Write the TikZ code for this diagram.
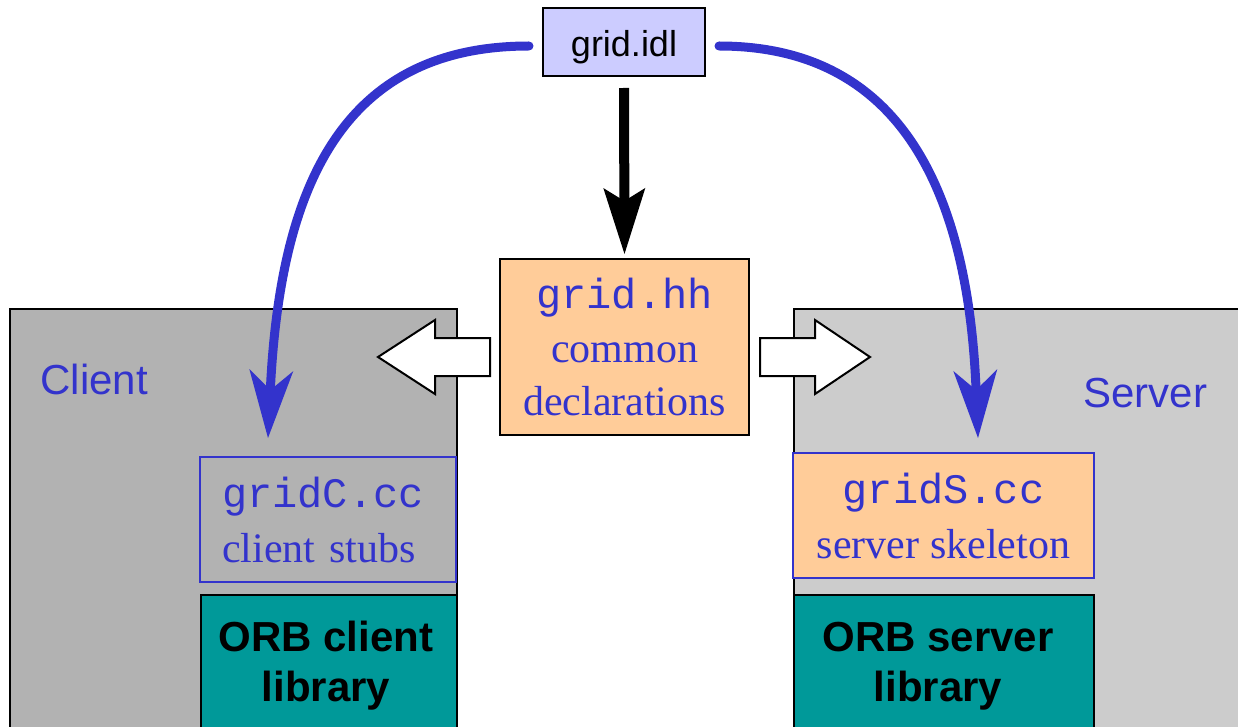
\documentclass[tikz,border=0pt]{standalone}
\usepackage{fontspec}
\setmainfont{Liberation Sans}
\newfontfamily\serifF{Liberation Serif}
\newfontfamily\monoF{Liberation Mono}
\usetikzlibrary{arrows.meta}
\definecolor{myblue}{HTML}{3333CC}
\definecolor{peach}{HTML}{FFCC99}
\definecolor{lav}{HTML}{CCCCFF}
\definecolor{tealbox}{HTML}{009999}
\definecolor{cgray}{HTML}{B2B2B2}
\definecolor{sgray}{HTML}{CCCCCC}
\tikzset{
  panel/.style={draw=black, line width=2pt, inner sep=0pt, anchor=north west},
  filebox/.style={line width=2pt, inner sep=0pt, align=center, text=myblue,
    font=\fontsize{42}{55}\selectfont\serifF},
  orbbox/.style={draw=black, line width=2pt, fill=tealbox, inner sep=0pt, anchor=north west},
  orblabel/.style={align=center, font=\fontsize{42}{50}\selectfont\bfseries},
  sidelabel/.style={anchor=base west, text=myblue, font=\fontsize{42}{50}\selectfont},
  hollow/.style={draw=black, fill=white, line width=2pt, line join=miter},
  bluearrow/.style={draw=myblue, line width=9pt, line cap=round,
    -{Stealth[length=68pt,width=44pt,inset=20pt,line width=0pt]}},
  blackarrow/.style={draw=black, line width=10pt,
    -{Stealth[length=66pt,width=42pt,inset=13pt,line width=0pt]}}
}
\begin{document}
\begin{tikzpicture}[x=1pt,y=-1pt]
\useasboundingbox (0,0) rectangle (1238,727);
\clip (0,0) rectangle (1238,727);

% panels
\node[panel, fill=cgray, minimum width=447pt, minimum height=460pt] (client) at (9,308) {};
\node[panel, fill=sgray, minimum width=470pt, minimum height=460pt] (server) at (793,308) {};
\node[sidelabel] (clientlbl) at (37,394) {Client};
\node[sidelabel] (serverlbl) at (1080,407) {Server};

% hollow arrows
\draw[hollow] (490,338) -- (435,338) -- (435,320) -- (378,357) -- (435,394) -- (435,376) -- (490,376) -- cycle;
\draw[hollow] (760,338) -- (815,338) -- (815,320) -- (870,357) -- (815,394) -- (815,376) -- (760,376) -- cycle;

% top file
\node[draw=black, fill=lav, line width=2pt, inner sep=0pt, minimum width=162pt, minimum height=68pt,
      font=\fontsize{36}{40}\selectfont, text height=36pt, text depth=6pt] (idl) at (624,42) {grid.idl};

% header file
\node[filebox, draw=black, fill=peach, minimum width=249pt, minimum height=176pt,
      font=\fontsize{42}{53.5}\selectfont\serifF] (hh) at (624.5,347)
      {{\monoF grid.hh}\\common\\declarations};

% stubs and skeleton
\node[filebox, draw=myblue, minimum width=256pt, minimum height=125pt, text width=212pt, align=left] (stubs) at (328,519.5)
      {{\monoF gridC.cc}\\client stubs};
\node[filebox, draw=myblue, fill=peach, minimum width=301pt, minimum height=125pt] (skel) at (943.5,515.5)
      {{\monoF gridS.cc}\\server skeleton};

% ORB libraries
\node[orbbox, minimum width=256pt, minimum height=170pt] (orbc) at (200,594) {};
\node[orbbox, minimum width=300pt, minimum height=170pt] (orbs) at (793,594) {};
\node[orblabel] (orbclbl) at (326,666) {ORB client\\library};
\node[orblabel] (orbslbl) at (938,666) {ORB server\\library};

% arrows
\coordinate (ctip) at (268,438);
\coordinate (stip) at (978,438);
\draw[bluearrow, shorten <=13pt] ([yshift=-4pt]idl.west) .. controls (340,46) and (280,190) .. (ctip);
\draw[bluearrow, shorten <=13pt] ([yshift=-4pt]idl.east) .. controls (900,46) and (968,190) .. (stip);
\draw[blackarrow, shorten <=11pt, shorten >=4pt] (idl.south) -- (hh.north);
\end{tikzpicture}
\end{document}
